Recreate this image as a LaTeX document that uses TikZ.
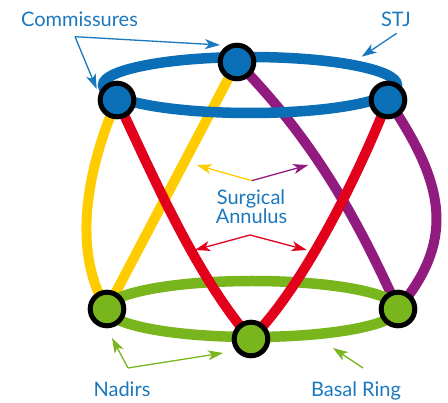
\documentclass[tikz,border=0pt]{standalone}
\usepackage{fontspec}
\setmainfont{Lato}
\usetikzlibrary{arrows.meta}
\definecolor{cblue}{HTML}{0A6FB6}
\definecolor{ctext}{HTML}{1A78BE}
\definecolor{cyel}{HTML}{FFCC00}
\definecolor{cred}{HTML}{E2001A}
\definecolor{cpur}{HTML}{921B80}
\definecolor{cgrn}{HTML}{79B51C}
\pgfdeclarelayer{bg}
\pgfsetlayers{bg,main}
\begin{document}
\begin{tikzpicture}[x=1pt,y=-1pt,
  ring/.style={line width=10.5pt},
  band/.style={line width=10pt},
  joint/.style={circle,draw=black,line width=5pt,minimum size=33.6pt,inner sep=0pt},
  lbl/.style={text=ctext,font=\fontsize{20}{24}\selectfont,anchor=base,inner sep=0pt},
  pointer/.style={line width=1.3pt,-{Stealth[length=15pt,width=10pt,inset=4pt]}}]
\useasboundingbox (0,0) rectangle (448,403);

% joints
\node[joint,fill=cblue] (tc) at (237,62) {};
\node[joint,fill=cblue] (tl) at (117,100) {};
\node[joint,fill=cblue] (tr) at (388,100) {};
\node[joint,fill=cgrn] (bl) at (107,309) {};
\node[joint,fill=cgrn] (bc) at (251,339) {};
\node[joint,fill=cgrn] (br) at (398,309) {};

\begin{pgfonlayer}{bg}
  % yellow
  \draw[band,cyel] (tl.center) .. controls (82.5,179) and (74.6,257.7) .. (bl.center);
  \draw[band,cyel] (tc.center) -- (bl.center);
  % purple
  \draw[band,cpur] (tc.center) .. controls (317,143) and (360,225) .. (br.center);
  \draw[band,cpur] (tr.center) .. controls (445,184) and (456,240) .. (br.center);
  % rings
  \draw[ring,cgrn] (252.5,309) ellipse [x radius=145.5pt, y radius=28pt];
  \draw[ring,cblue] (250,85) ellipse [x radius=147pt, y radius=28pt];
  % red
  \draw[band,cred] (tl.center) .. controls (150,169) and (195,275) .. (bc.center);
  \draw[band,cred] (tr.center) .. controls (355.5,182.5) and (301,289) .. (bc.center);
\end{pgfonlayer}

% labels
\node[lbl] (lcom) at (79.5,26.7) {Commissures};
\node[lbl] (lstj) at (396,26.7) {STJ};
\node[lbl] (lsur) at (251,205) {Surgical};
\node[lbl] (lann) at (251.5,224) {Annulus};
\node[lbl] (lnad) at (122,396.7) {Nadirs};
\node[lbl] (lbas) at (356,396.7) {Basal Ring};

% pointer coordinates
\coordinate (cv) at (75,36.7);
\coordinate (c1) at (96.7,89);
\coordinate (c2) at (220,45);
\coordinate (sv) at (396.7,33.3);
\coordinate (s1) at (361.7,56.7);
\coordinate (yv) at (251.7,180.7);
\coordinate (y1) at (196.7,165);
\coordinate (p1) at (308.3,165);
\coordinate (rv) at (250,235);
\coordinate (r1) at (195,250);
\coordinate (r2) at (306.7,250);
\coordinate (nv) at (128,368);
\coordinate (n1) at (112,338);
\coordinate (n2) at (223,353);
\coordinate (bv) at (363,368);
\coordinate (b1) at (333,348);

\draw[pointer,ctext] (cv) -- (c1);
\draw[pointer,ctext] (cv) -- (c2);
\draw[pointer,ctext] (sv) -- (s1);
\draw[pointer,cyel] (yv) -- (y1);
\draw[pointer,cpur] (yv) -- (p1);
\draw[pointer,cred] (rv) -- (r1);
\draw[pointer,cred] (rv) -- (r2);
\draw[pointer,cgrn] (nv) -- (n1);
\draw[pointer,cgrn] (nv) -- (n2);
\draw[pointer,cgrn] (bv) -- (b1);
\end{tikzpicture}
\end{document}
